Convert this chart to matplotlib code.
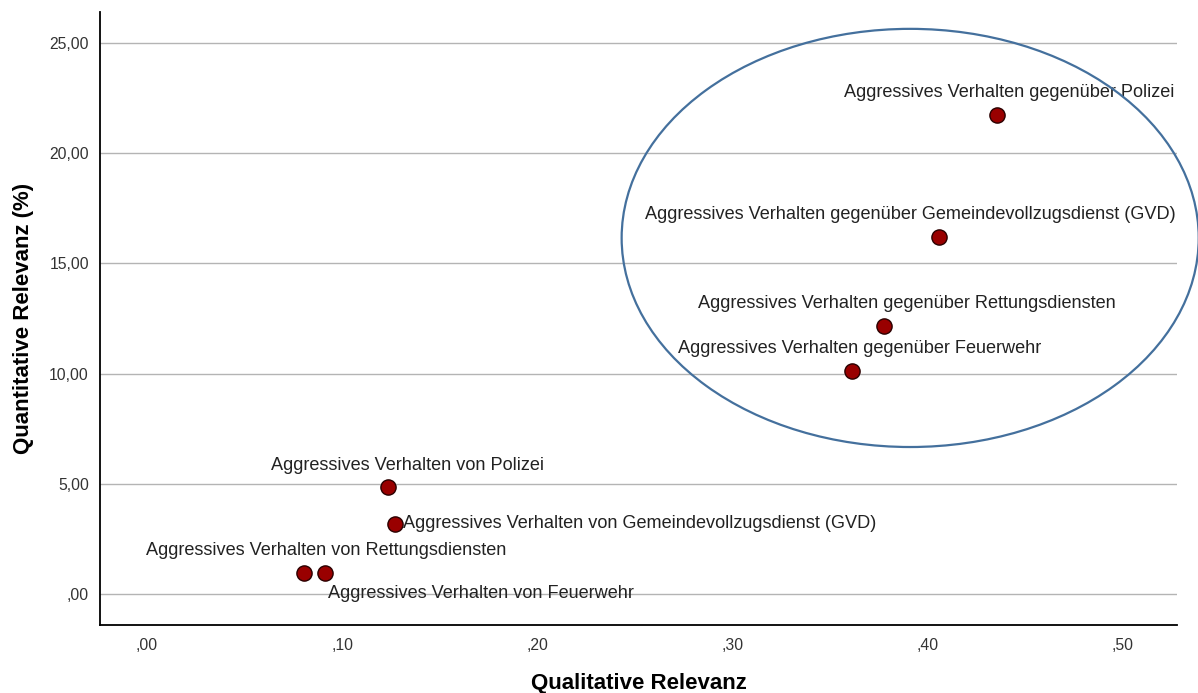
import matplotlib
matplotlib.use('Agg')
import matplotlib.pyplot as plt
from matplotlib.patches import Ellipse

plt.rcParams['font.family'] = ['Liberation Sans', 'DejaVu Sans']

# Daten
labels = [
    'Aggressives Verhalten gegenüber Polizei',
    'Aggressives Verhalten gegenüber Gemeindevollzugsdienst (GVD)',
    'Aggressives Verhalten gegenüber Rettungsdiensten',
    'Aggressives Verhalten gegenüber Feuerwehr',
    'Aggressives Verhalten von Polizei',
    'Aggressives Verhalten von Gemeindevollzugsdienst (GVD)',
    'Aggressives Verhalten von Rettungsdiensten',
    'Aggressives Verhalten von Feuerwehr',
]
qualitativ = [0.4355, 0.4057, 0.3776, 0.3611, 0.1233, 0.1270, 0.0804, 0.0912]
quantitativ = [21.73, 16.20, 12.16, 10.13, 4.87, 3.18, 0.97, 0.97]

x_ticks = [0.0, 0.1, 0.2, 0.3, 0.4, 0.5]
x_ticklabels = [',00', ',10', ',20', ',30', ',40', ',50']
y_ticks = [0, 5, 10, 15, 20, 25]
y_ticklabels = [',00', '5,00', '10,00', '15,00', '20,00', '25,00']

# Beschriftungsversatz in Pixeln (dx, dy, ha)
offsets = [(12, 22, 'center'), (-29, 22, 'center'), (23, 22, 'center'),
           (8, 22, 'center'), (20, 21, 'center'), (8, 0, 'left'),
           (22, 22, 'center'), (3, -21, 'left')]

fig = plt.figure(figsize=(11.98, 6.93), dpi=100)
ax = fig.add_axes([0.0835, 0.0981, 0.899, 0.8846])

ax.scatter(qualitativ, quantitativ, s=120, color='#990000',
           edgecolors='#2a0000', linewidths=1.0, zorder=3)

for lab, x, y, (dx, dy, ha) in zip(labels, qualitativ, quantitativ, offsets):
    ax.annotate(lab, (x, y), xytext=(dx, dy), textcoords='offset pixels',
                ha=ha, va='center', fontsize=13.1, color='#222222', zorder=4)

ell = Ellipse((0.391, 16.15), 0.2956, 18.97, fill=False,
              edgecolor='#44709d', linewidth=1.6, clip_on=False, zorder=5)
ax.add_patch(ell)

ax.set_xlim(-0.024, 0.5277)
ax.set_ylim(-1.41, 26.4)
ax.set_xticks(x_ticks)
ax.set_xticklabels(x_ticklabels)
ax.set_yticks(y_ticks)
ax.set_yticklabels(y_ticklabels)
ax.tick_params(axis='both', length=0, labelsize=11.3, labelcolor='#333333')
ax.tick_params(axis='x', pad=9)
ax.tick_params(axis='y', pad=8)

ax.grid(axis='y', color='#b4b4b4', linewidth=1.0)
ax.set_axisbelow(True)
for side in ['top', 'right']:
    ax.spines[side].set_visible(False)
for side in ['left', 'bottom']:
    ax.spines[side].set_color('black')
    ax.spines[side].set_linewidth(1.3)

ax.set_xlabel('Qualitative Relevanz', fontsize=16, fontweight='bold', labelpad=15)
ax.set_ylabel('Quantitative Relevanz (%)', fontsize=16, fontweight='bold', labelpad=11)

fig.savefig('out.png', dpi=100)
